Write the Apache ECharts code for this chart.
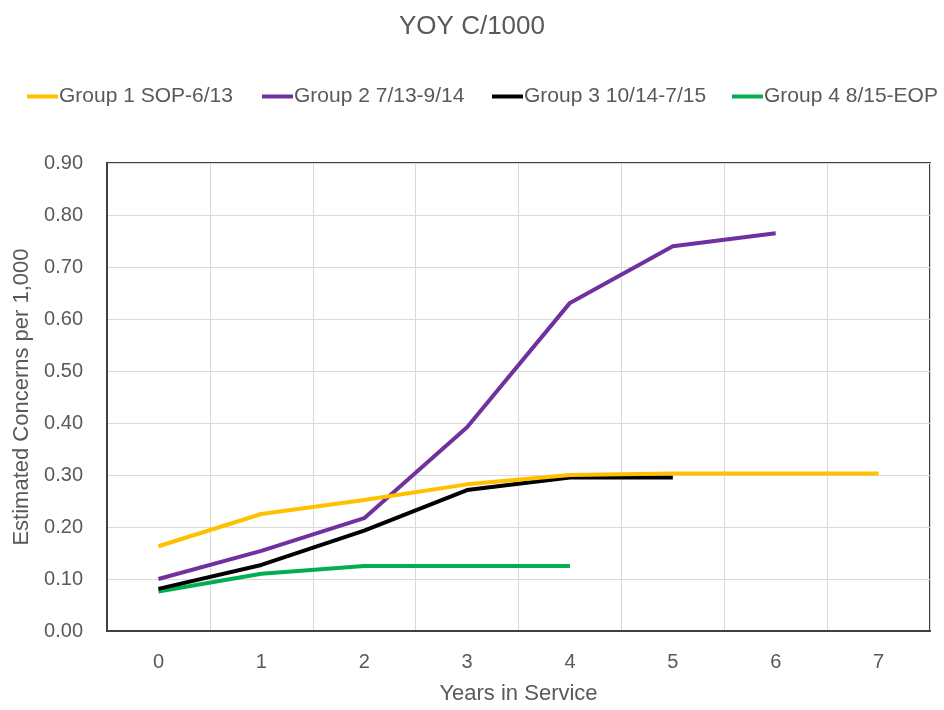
<!DOCTYPE html>
<html>
<head>
<meta charset="utf-8">
<script src="https://cdn.jsdelivr.net/npm/echarts@6/dist/echarts.min.js"></script>
<style>html,body{margin:0;padding:0;background:#fff}#c{width:944px;height:710px}</style>
</head>
<body>
<div id="c"></div>
<script>
const categories = ['0','1','2','3','4','5','6','7'];
const seriesNames = ['Group 1 SOP-6/13','Group 2 7/13-9/14','Group 3 10/14-7/15','Group 4 8/15-EOP'];
const group1 = [0.163, 0.225, 0.252, 0.282, 0.300, 0.303, 0.303, 0.303];
const group2 = [0.100, 0.154, 0.217, 0.392, 0.631, 0.740, 0.765, null];
const group3 = [0.081, 0.127, 0.193, 0.271, 0.295, 0.295, null, null];
const group4 = [0.076, 0.110, 0.125, 0.125, 0.125, null, null, null];
const colors = ['#FFC000','#7030A0','#000000','#00B050'];
const yTicks = { min: 0, max: 0.9, interval: 0.1 };

const font = '"Liberation Sans",Arial,sans-serif';
const legendLeft = [22, 257, 487, 727];
const chart = echarts.init(document.getElementById('c'));
const data = [group1, group2, group3, group4];
chart.setOption({
  animation: false,
  textStyle: { fontFamily: font },
  title: {
    text: 'YOY C/1000', left: 'center', top: 9,
    textStyle: { fontFamily: font, fontSize: 26, fontWeight: 'normal', color: '#595959' }
  },
  legend: seriesNames.map((n, i) => ({
    top: 81, left: legendLeft[i], itemGap: 0, itemWidth: 31, itemHeight: 4,
    icon: 'rect',
    textStyle: { fontFamily: font, fontSize: 21, color: '#595959', padding: [0,0,0,-4] },
    data: [n]
  })),
  grid: { left: 107, right: 14, top: 163, bottom: 78, show: true, borderColor: '#404040', borderWidth: 2 },
  xAxis: {
    type: 'category', data: categories, boundaryGap: true,
    name: 'Years in Service', nameLocation: 'middle', nameGap: 52,
    nameTextStyle: { fontFamily: font, fontSize: 22, color: '#595959' },
    axisLine: { lineStyle: { color: '#404040', width: 2 } },
    axisTick: { show: false },
    axisLabel: { fontFamily: font, fontSize: 20, color: '#595959', margin: 21 },
    splitLine: { show: true, lineStyle: { color: '#d9d9d9', width: 1 } }
  },
  yAxis: {
    type: 'value', min: yTicks.min, max: yTicks.max, interval: yTicks.interval,
    name: 'Estimated Concerns per 1,000', nameLocation: 'middle', nameGap: 74,
    nameTextStyle: { fontFamily: font, fontSize: 22, color: '#595959' },
    axisLine: { show: true, lineStyle: { color: '#404040', width: 2 } },
    axisTick: { show: false },
    axisLabel: { fontFamily: font, fontSize: 20, color: '#595959', margin: 24,
      formatter: v => v.toFixed(2) },
    splitLine: { show: true, lineStyle: { color: '#d9d9d9', width: 1 } }
  },
  series: seriesNames.map((n, i) => ({
    name: n, type: 'line', data: data[i], showSymbol: false, symbol: 'none',
    color: colors[i], lineStyle: { width: 4, color: colors[i] }, z: 10 - i
  }))
});
</script>
</body>
</html>
